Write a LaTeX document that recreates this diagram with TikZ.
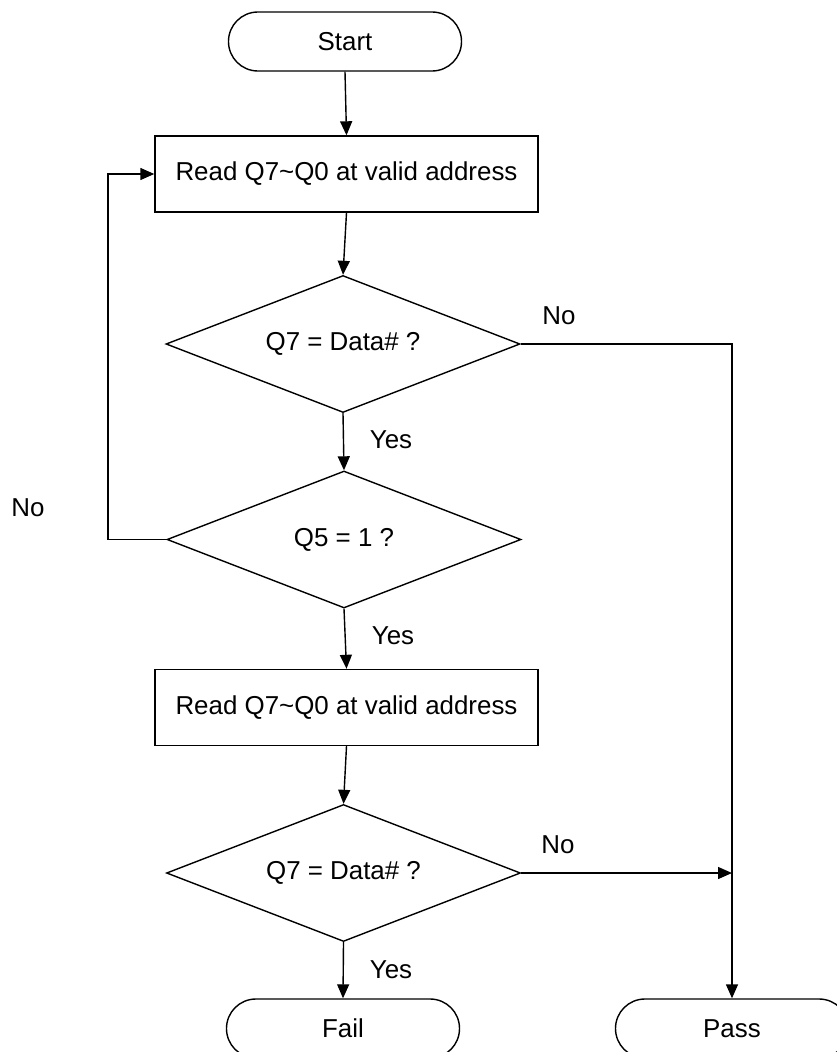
\documentclass[tikz,border=0pt]{standalone}
\usepackage{fontspec}
\setmainfont{Liberation Sans}
\usetikzlibrary{shapes.geometric,arrows.meta}
\begin{document}
\begin{tikzpicture}[x=1pt,y=-1pt,
  every node/.style={font=\fontsize{25.9}{30}\selectfont, inner sep=0pt},
  terminal/.style={draw, line width=1.4pt, rectangle, rounded corners=29.4pt, minimum width=233pt, minimum height=59pt},
  process/.style={draw, line width=1.4pt, rectangle, minimum width=383pt, minimum height=76pt},
  decision/.style={draw, line width=1.4pt, diamond, aspect=2.6, minimum width=354pt, minimum height=137pt},
  conn/.style={line width=1.4pt},
  arr/.style={conn, -{Triangle[length=14pt,width=12pt]}},
  lbl/.style={anchor=center}
]
\useasboundingbox (0,0) rectangle (836,1052);
\node[terminal] (start) at (345,41.5) {Start};
\node[process] (b1) at (346.5,174) {Read Q7\textasciitilde Q0 at valid address};
\node[decision] (d1) at (343,344) {Q7 = Data\# ?};
\node[decision] (d2) at (344,539.5) {Q5 = 1 ?};
\node[process] (b2) at (346.5,707.5) {Read Q7\textasciitilde Q0 at valid address};
\node[decision] (d3) at (343.5,873) {Q7 = Data\# ?};
\node[terminal] (fail) at (343,1028.5) {Fail};
\node[terminal] (pass) at (732,1028.5) {Pass};

\draw[arr] (start.south) -- (b1.north);
\draw[arr] (b1.south) -- (d1.north);
\draw[arr] (d1.south) -- (d2.north);
\draw[arr] (d2.south) -- (b2.north);
\draw[arr] (b2.south) -- (d3.north);
\draw[arr] (d3.south) -- (fail.north);
\draw[arr] (d1.east) -| (pass.north);
\coordinate (join) at (pass.north |- d3.east);
\draw[arr] (d3.east) -- (join);
\coordinate (loop) at (108,539.5);
\draw[arr] (d2.west) -- (loop) |- (b1.west);

\node[lbl] (no1) at (559,316) {No};
\node[lbl] (yes1) at (391,440) {Yes};
\node[lbl] (no2) at (28,508) {No};
\node[lbl] (yes2) at (393,636) {Yes};
\node[lbl] (no3) at (558,845) {No};
\node[lbl] (yes3) at (391,970) {Yes};
\end{tikzpicture}
\end{document}
